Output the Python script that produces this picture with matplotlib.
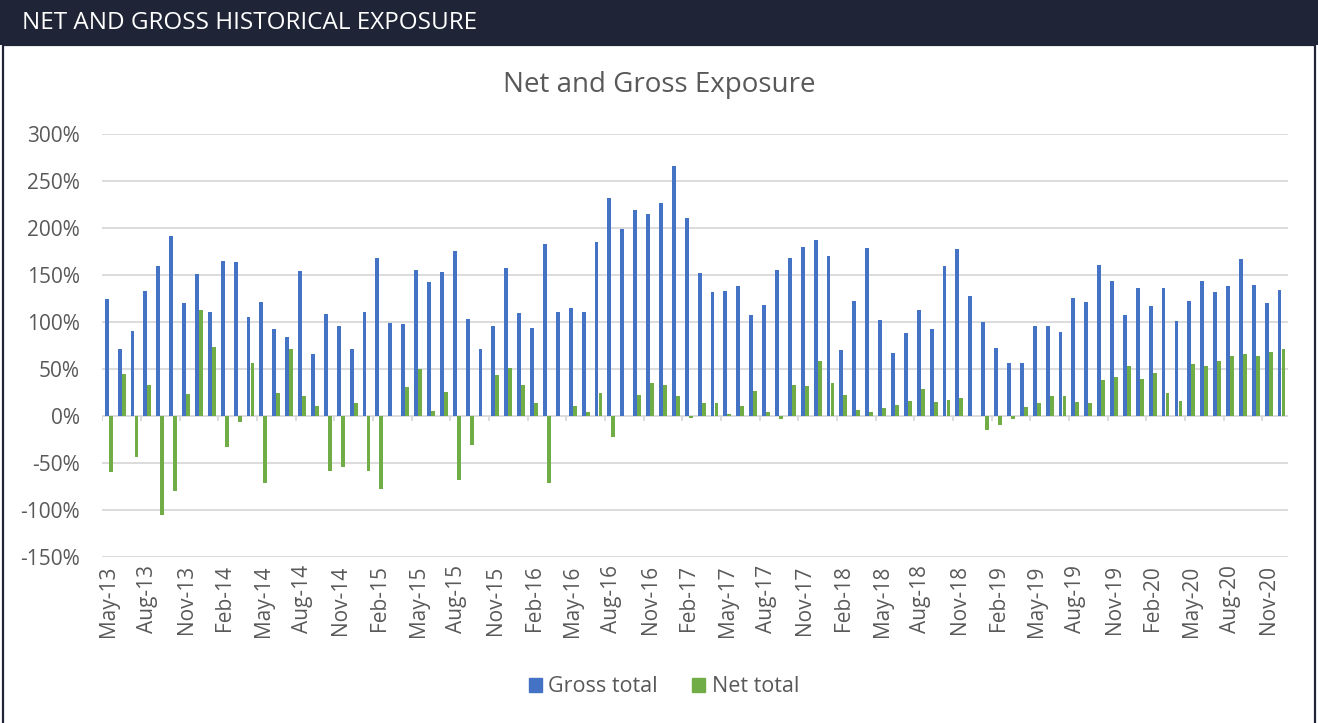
import matplotlib
matplotlib.use('Agg')
import matplotlib.pyplot as plt
import numpy as np
import pandas as pd
from matplotlib.patches import Rectangle, Patch
from matplotlib.ticker import FuncFormatter

plt.rcParams['font.family'] = ['Open Sans', 'DejaVu Sans']

# monthly exposure, May-13 .. Dec-20 (in %)
months = list(pd.date_range('2013-05-01', periods=92, freq='MS').strftime('%b-%y'))

gross_total = [124.5, 70.9, 90.8, 133, 159.6, 191.8, 119.9, 151, 110.3, 164.9,
               163.8, 105, 121, 92.9, 84, 154, 66, 108, 95.4, 71.6,
               110.6, 168.4, 98.9, 97.4, 155.7, 142.9, 153.2, 175.5, 103.2, 71.3,
               95.7, 157.4, 109.6, 94, 183.3, 111, 115.2, 110.6, 184.8, 232.3,
               199, 218.8, 215.2, 226.6, 265.6, 210.3, 152.6, 132.3, 132.6, 137.9,
               107.8, 117.7, 155, 167.7, 179.8, 187.2, 170.2, 69.9, 122.3, 179.1,
               102.1, 66.7, 87.9, 112.8, 92.2, 159.2, 177.7, 127.3, 100.4, 72.3,
               56, 56.7, 95.7, 95.7, 89, 125.2, 121.3, 161, 143.6, 107.1,
               135.8, 117, 136.2, 100.7, 122, 143.6, 131.6, 137.9, 167, 139.4,
               120.2, 134.4]

net_total = [-60, 44.3, -43.3, 32.6, -105, -79.8, 23.8, 112.8, 73.8, -33.3,
             -6, 56, -71, 24.8, 71.3, 20.9, 10.6, -59, -54.6, 14.2,
             -59, -78, 0, 30.5, 50, 5.7, 25.5, -68.4, -30.9, 0,
             43.6, 51, 32.6, 13.5, -71.3, 0, 10.3, 3.9, 24.1, -22.3,
             0, 22.3, 34.8, 33, 21.6, -2, 13.8, 13.5, 1.8, 10.6,
             26.6, 3.9, -2.8, 33, 31.9, 58.9, 35.1, 22, 6, 4.3,
             8.9, 11.7, 15.6, 28.7, 14.9, 16.7, 19.1, 0, -14.9, -9.6,
             -3, 9.6, 14.2, 21.3, 21.3, 14.9, 14.2, 38.3, 41.8, 53.2,
             39.4, 45.7, 24.8, 16, 55.3, 53.2, 58.5, 63.5, 65.6, 63.5,
             68.4, 71.3]

blue = '#4472C4'
green = '#70AD47'
grey = '#595959'
navy = '#1f2536'

W, H = 1318, 723
fig = plt.figure(figsize=(W / 100, H / 100), dpi=100)

# header band + frame
fig.patches.append(Rectangle((0, 1 - 45 / H), 1, 45 / H, transform=fig.transFigure,
                             facecolor=navy, edgecolor='none'))
fig.patches.append(Rectangle((2.5 / W, -0.01), (1315 - 2.5) / W, 1 - 45 / H + 0.01,
                             transform=fig.transFigure, fill=False,
                             edgecolor=navy, lw=1.6))
fig.text(22 / W, 1 - 23 / H, 'NET AND GROSS HISTORICAL EXPOSURE', color='white',
         fontsize=17.5, va='center', ha='left')

fig.text(0.5, 1 - 85 / H, 'Net and Gross Exposure', color=grey, fontsize=20,
         ha='center', va='center')

ax = fig.add_axes([102.3 / W, 1 - 557 / H, (1288 - 102.3) / W, (557 - 134) / H])
x = np.arange(len(months))
ax.bar(x - 0.155, gross_total, 0.3, color=blue, zorder=3)
ax.bar(x + 0.155, net_total, 0.3, color=green, zorder=3)

ax.set_xlim(-0.5, len(months) - 0.5)
ax.set_ylim(-150, 300)
ax.set_yticks(np.arange(-150, 301, 50))
ax.yaxis.set_major_formatter(FuncFormatter(lambda v, p: '%d%%' % v))
ax.yaxis.grid(True, color='#d9d9d9', lw=1.3)
ax.set_axisbelow(True)
for s in ax.spines.values():
    s.set_visible(False)

# category tick marks on the zero line
ax.vlines(np.arange(0, len(months), 3) - 0.5, -5, 0, color='#d9d9d9', lw=1.3, zorder=2)

ax.set_xticks(x[::3])
ax.set_xticklabels(months[::3], rotation=90)
ax.tick_params(axis='x', length=0, pad=6, labelsize=15, labelcolor=grey)
ax.tick_params(axis='y', length=0, pad=16, labelsize=15, labelcolor=grey)

handles = [Patch(color=blue, label='Gross total'), Patch(color=green, label='Net total')]
leg = fig.legend(handles=handles, loc='center', bbox_to_anchor=(664 / W, 1 - 687 / H),
                 ncol=2, frameon=False, fontsize=15.5, handlelength=0.6, handleheight=0.6,
                 handletextpad=0.3, columnspacing=1.6)
for t in leg.get_texts():
    t.set_color(grey)

fig.savefig('out.png', dpi=100)
